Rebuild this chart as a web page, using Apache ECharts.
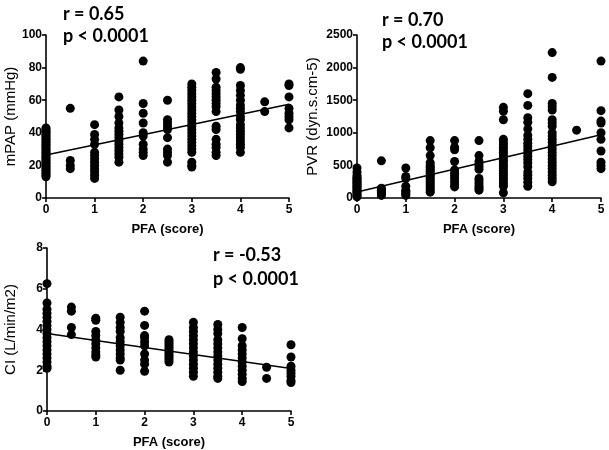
<!DOCTYPE html>
<html><head><meta charset="utf-8">
<script src="https://cdn.jsdelivr.net/npm/echarts@6/dist/echarts.min.js"></script>
<style>html,body{margin:0;padding:0;background:#fff}#c{width:609px;height:450px}</style>
</head><body><div id="c"></div>
<script>
const scores = [0, 0.5, 1, 1.5, 2, 2.5, 3, 3.5, 4, 4.5, 5];
const xTicks = [0, 1, 2, 3, 4, 5];

const mpapValues = [
  [13,14,15,16,17,18,19,20,21,22,23,24,25,26,27,28,29,30,31,32,33,34,35,36,37,38,39,40,41,42,43],
  [55,23,20,18],
  [45,39,36,33,28,26,24,22,20,18,16,14,12],
  [62,54,50,46,43,41,39,37,35,33,31,29,27,25,22],
  [84,58,52,46,40,38,33,30,28,26],
  [60,48,46,44,42,37,30,28,26,22],
  [70,68,66,64,62,60,58,56,54,52,50,48,46,44,42,40,38,36,34,32,30,28,22,20,19],
  [77,73,68,66,64,62,60,58,56,53,44,42,36,33,31,28,26],
  [80,79,69,66,63,60,57,55,53,50,48,45,43,41,39,37,35,33,31,28],
  [59,53],
  [70,69,62,55,52,50,48,43]
];
const pvrValues = [
  [460,400,350,320,300,280,260,240,220,200,180,160,140,120,100,80,60,40,20],
  [570,150,120,100,80,60,40],
  [460,330,300,180,120,100,80,60,40],
  [880,770,650,540,500,470,440,410,380,350,320,290,260,230,200,170,140,110,90],
  [880,780,740,560,430,380,340,300,250,200,170],
  [880,650,560,520,480,440,300,260,220,180,150,120],
  [1390,1330,1200,900,860,820,780,740,700,660,620,580,540,500,460,420,380,340,300,260,220,180,80],
  [1600,1420,1230,1160,1060,960,900,840,790,740,690,640,590,540,480,400,350,300,240,180],
  [2230,1850,1450,1400,1350,1200,1150,1100,1000,950,900,850,800,750,700,650,600,550,500,450,400,350,300,250],
  [1040],
  [2100,1340,1180,1150,1000,900,720,550,500,450]
];
const ciValues = [
  [6.25,5.3,5.0,4.8,4.6,4.4,4.2,4.0,3.8,3.6,3.4,3.2,3.0,2.8,2.6,2.4,2.2,2.1],
  [5.1,4.9,4.1,3.75],
  [4.55,4.45,3.9,3.7,3.5,3.3,3.1,2.9,2.75,2.65],
  [4.6,4.35,4.1,3.9,3.6,3.4,3.2,3.0,2.8,2.6,2.5,2.0],
  [4.9,4.2,3.7,3.6,3.4,3.2,2.8,2.5,2.3,1.95],
  [3.5,3.4,3.3,3.2,3.1,3.0,2.9,2.8,2.7,2.6,2.5,2.4],
  [4.35,4.1,3.9,3.7,3.5,3.3,3.1,2.9,2.7,2.5,2.3,2.1,1.9,1.7],
  [4.25,4.0,3.8,3.5,3.3,3.1,2.9,2.7,2.5,2.3,2.1,1.9,1.7,1.6],
  [4.1,3.55,3.2,3.0,2.8,2.6,2.4,2.2,2.0,1.8,1.6,1.45],
  [2.15,1.6],
  [3.25,2.65,2.2,2.0,1.85,1.7,1.5,1.4]
];

const fitX = [0, 5];
const mpapFit = [26.4, 57.5];
const pvrFit = [92, 971];
const ciFit = [3.80, 2.09];

const mpapTicks = [0, 20, 40, 60, 80, 100];
const pvrTicks = [0, 500, 1000, 1500, 2000, 2500];
const ciTicks = [0, 2, 4, 6, 8];

const labels = {
  mpapY: 'mPAP (mmHg)', pvrY: 'PVR (dyn.s.cm-5)', ciY: 'CI (L/min/m2)', x: 'PFA (score)',
  r1: 'r = 0.65', r2: 'r = 0.70', r3: 'r = -0.53', p: 'p < 0.0001'
};

function pairs(vals) {
  const out = [];
  vals.forEach((col, i) => col.forEach(v => out.push([scores[i], v])));
  return out;
}
function fitPairs(f) { return fitX.map((x, i) => [x, f[i]]); }

const FONT = '"Liberation Sans", Arial, sans-serif';
const axisLine = { show: true, lineStyle: { color: '#000', width: 1.6 } };
const axisTick = { show: true, inside: false, length: 4, lineStyle: { color: '#000', width: 1.6 } };

function xAxis(gi) {
  return {
    type: 'value', gridIndex: gi, min: xTicks[0], max: xTicks[xTicks.length - 1], interval: 1,
    axisLine, axisTick, splitLine: { show: false },
    axisLabel: { color: '#000', fontFamily: FONT, fontWeight: 'bold', fontSize: 12, margin: 6 },
    name: labels.x, nameLocation: 'middle', nameGap: 25,
    nameTextStyle: { color: '#000', fontFamily: FONT, fontWeight: 'bold', fontSize: 13 }
  };
}
function yAxis(gi, ticks, name, gap) {
  return {
    type: 'value', gridIndex: gi, min: ticks[0], max: ticks[ticks.length - 1],
    interval: ticks[1] - ticks[0],
    axisLine, axisTick, splitLine: { show: false },
    axisLabel: { color: '#000', fontFamily: FONT, fontWeight: 'bold', fontSize: 12, margin: 4,
      formatter: v => String(v) },
    name, nameLocation: 'middle', nameGap: gap, nameRotate: 90,
    nameTextStyle: { color: '#000', fontFamily: FONT, fontSize: 15 }
  };
}
function scatter(gi, vals) {
  return { type: 'scatter', xAxisIndex: gi, yAxisIndex: gi, data: pairs(vals),
    symbolSize: 9, clip: false, itemStyle: { color: '#000', opacity: 1 }, silent: true, z: 3 };
}
function fitLine(gi, f) {
  return { type: 'line', xAxisIndex: gi, yAxisIndex: gi, data: fitPairs(f), symbol: 'none',
    lineStyle: { color: '#000', width: 1.5 }, silent: true, z: 4 };
}

const ann = (x, y, t) => ({ type: 'text', left: x, top: y,
  style: { text: t, fill: '#000', font: 'bold 18px Lato, "Open Sans", sans-serif' } });

const chart = echarts.init(document.getElementById('c'), null, { renderer: 'canvas' });
chart.setOption({
  animation: false,
  backgroundColor: '#fff',
  grid: [
    { left: 46, top: 35, width: 243, height: 163 },
    { left: 357, top: 35, width: 244, height: 163 },
    { left: 47, top: 248, width: 244, height: 164 }
  ],
  xAxis: [xAxis(0), xAxis(1), xAxis(2)],
  yAxis: [yAxis(0, mpapTicks, labels.mpapY, 27), yAxis(1, pvrTicks, labels.pvrY, 37), yAxis(2, ciTicks, labels.ciY, 29)],
  series: [
    scatter(0, mpapValues), fitLine(0, mpapFit),
    scatter(1, pvrValues), fitLine(1, pvrFit),
    scatter(2, ciValues), fitLine(2, ciFit)
  ],
  graphic: [
    ann(63, 5, labels.r1), ann(63, 27, labels.p),
    ann(382, 11, labels.r2), ann(382, 33, labels.p),
    ann(213, 246, labels.r3), ann(213, 270, labels.p)
  ]
});
</script></body></html>
